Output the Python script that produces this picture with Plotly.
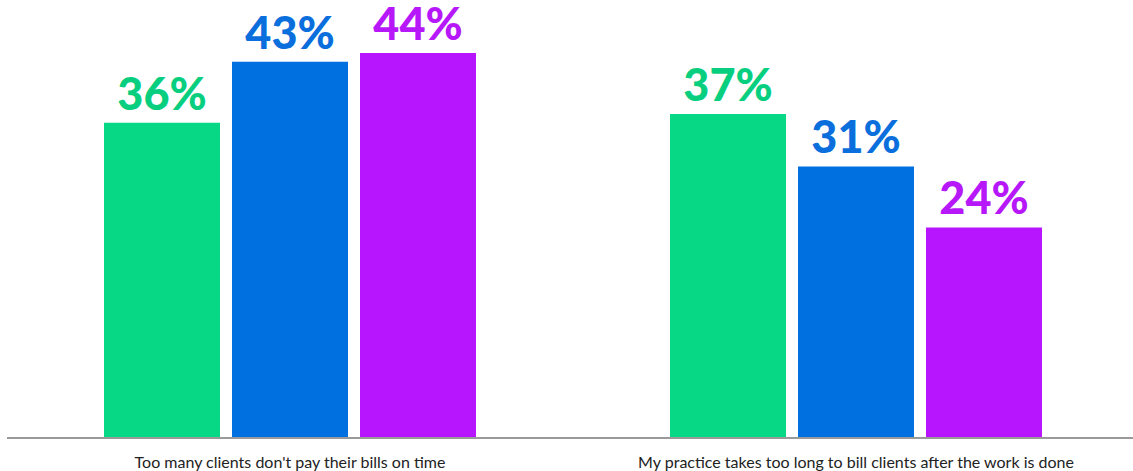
import plotly.graph_objects as go

categories = [
    "Too many clients don't pay their bills on time",
    "My practice takes too long to bill clients after the work is done",
]
series_names = ["Group A", "Group B", "Group C"]
series_values = [
    [36, 37],
    [43, 31],
    [44, 24],
]
series_colors = ["#06D886", "#0070E0", "#B815FF"]
label_colors = ["#08CF80", "#0A6FDD", "#B618FA"]

fig = go.Figure()
for name, vals, color, lcolor in zip(series_names, series_values, series_colors, label_colors):
    fig.add_trace(go.Bar(
        x=categories,
        y=vals,
        name=name,
        marker=dict(color=color, line=dict(width=0)),
        text=[f"{v}%" for v in vals],
        textposition="outside",
        cliponaxis=False,
        textfont=dict(family="Lato", size=45, color=lcolor, weight=900),
    ))

fig.update_layout(
    width=1133,
    height=471,
    barmode="group",
    bargap=0.3216,
    bargroupgap=0.09375,
    showlegend=False,
    plot_bgcolor="white",
    paper_bgcolor="white",
    margin=dict(l=7, r=0, t=0, b=34),
    xaxis=dict(
        type="category",
        range=[-0.5, 1.4894],
        showline=True,
        linecolor="#9a9a9a",
        linewidth=2,
        ticks="",
        ticklabelstandoff=10,
        tickfont=dict(family="Lato", size=16, color="#222222"),
        showgrid=False,
    ),
    yaxis=dict(
        range=[0, 50.06],
        visible=False,
        showgrid=False,
        zeroline=False,
    ),
)

fig.write_html("out.html")
